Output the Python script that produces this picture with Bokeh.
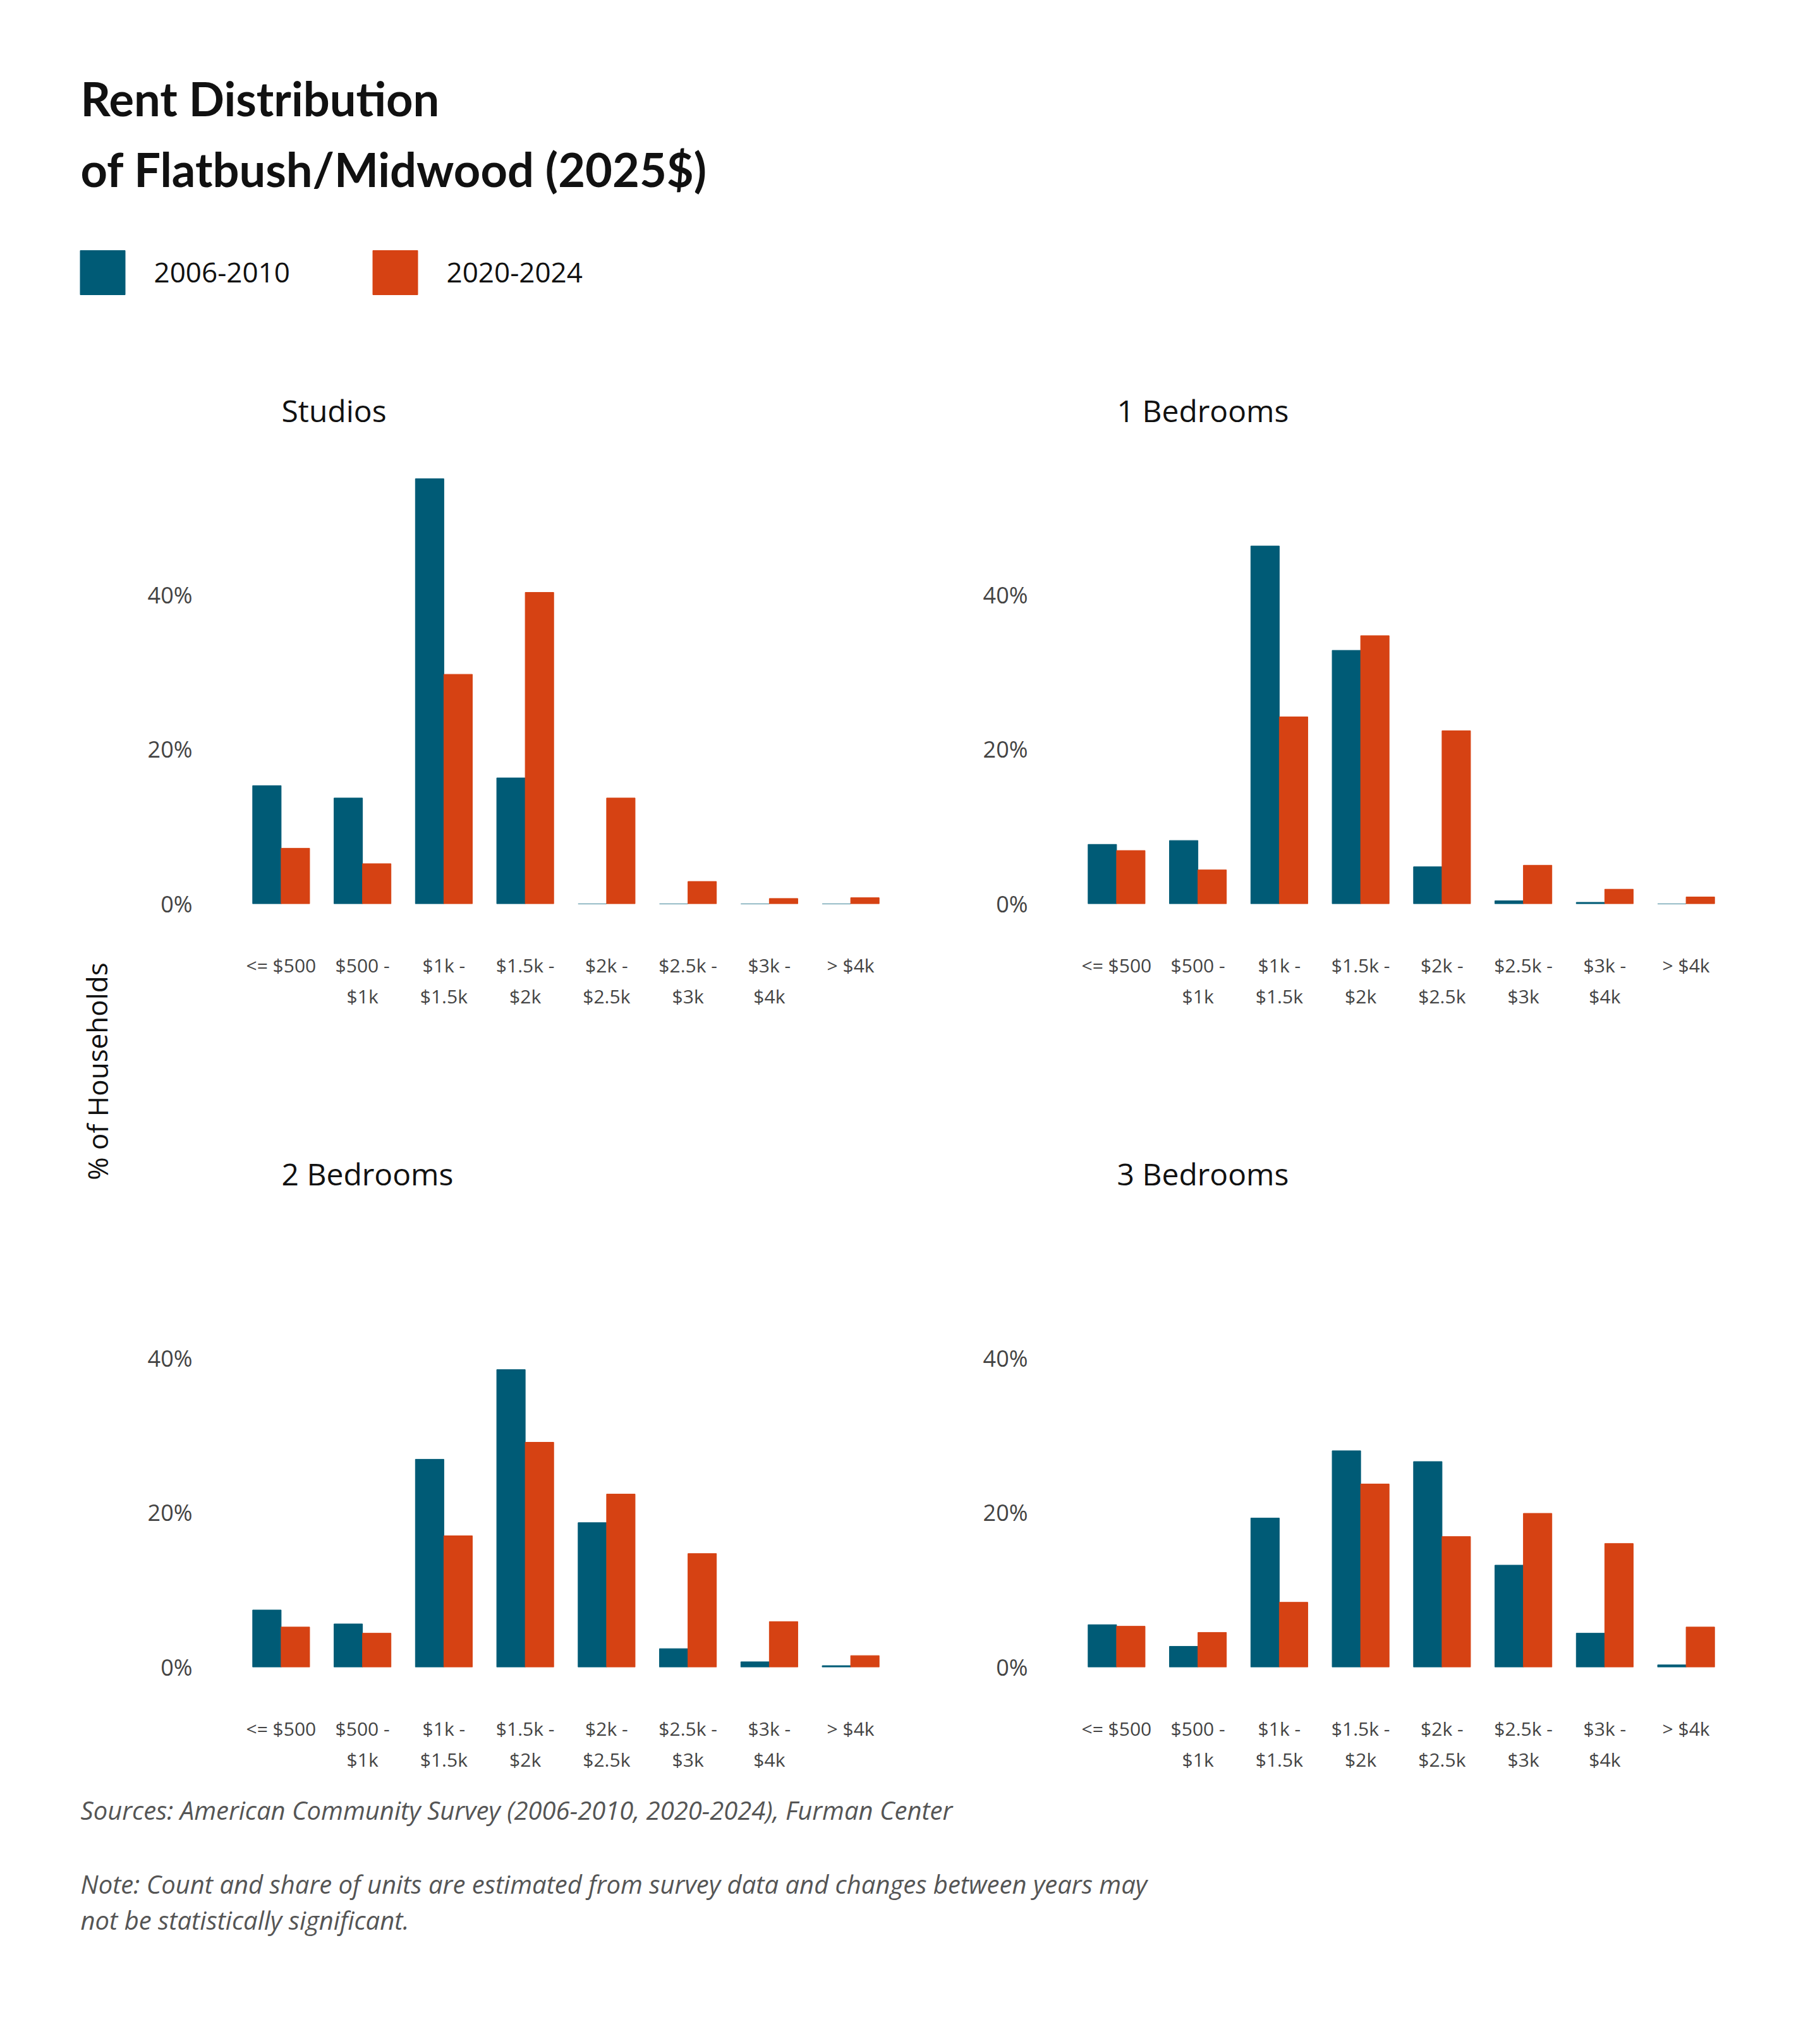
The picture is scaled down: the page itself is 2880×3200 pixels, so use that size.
from bokeh.plotting import figure
from bokeh.layouts import column, row
from bokeh.models import FactorRange, Range1d, NumeralTickFormatter, FixedTicker, Title
from bokeh.core.properties import value
from bokeh.transform import dodge
from bokeh.embed import file_html
from bokeh.resources import INLINE

categories = ["<= $500", "$500 -\n$1k", "$1k -\n$1.5k", "$1.5k -\n$2k", "$2k -\n$2.5k", "$2.5k -\n$3k", "$3k -\n$4k", "> $4k"]
panels = ["Studios", "1 Bedrooms", "2 Bedrooms", "3 Bedrooms"]
y2006 = {
    "Studios":    [15.3, 13.7, 55.0, 16.3, 0.0, 0.0, 0.0, 0.0],
    "1 Bedrooms": [7.7, 8.2, 46.3, 32.8, 4.8, 0.4, 0.2, 0.0],
    "2 Bedrooms": [7.4, 5.6, 26.9, 38.5, 18.7, 2.4, 0.7, 0.2],
    "3 Bedrooms": [5.5, 2.7, 19.3, 28.0, 26.6, 13.2, 4.4, 0.3],
}
y2020 = {
    "Studios":    [7.2, 5.2, 29.7, 40.3, 13.7, 2.9, 0.7, 0.8],
    "1 Bedrooms": [6.9, 4.4, 24.2, 34.7, 22.4, 5.0, 1.9, 0.9],
    "2 Bedrooms": [5.2, 4.4, 17.0, 29.1, 22.4, 14.7, 5.9, 1.5],
    "3 Bedrooms": [5.3, 4.5, 8.4, 23.7, 16.9, 19.9, 16.0, 5.2],
}
series_labels = ["2006-2010", "2020-2024"]
C1, C2 = "#005b76", "#d64213"
FONT = "Open Sans"
TITLE_FONT = "Lato"

def panel(name, left, right, bottom):
    p = figure(x_range=FactorRange(*categories, range_padding=0), y_range=Range1d(0, 0.6),
               width=left + 1030 + right, height=120 + 734 + bottom,
               min_border_left=left, min_border_right=right, min_border_top=120, min_border_bottom=bottom,
               output_backend="svg", toolbar_location=None)
    p.title = None
    t = Title(text=name, align="left", offset=65, text_font=FONT, text_font_size="48px",
              text_font_style="normal", text_color="#111111", standoff=30)
    p.add_layout(t, "above")
    data = dict(cat=categories, a=[v / 100 for v in y2006[name]], b=[v / 100 for v in y2020[name]])
    p.vbar(x=dodge("cat", -0.175, range=p.x_range), top="a", width=0.35, source=data, color=C1)
    p.vbar(x=dodge("cat", 0.175, range=p.x_range), top="b", width=0.35, source=data, color=C2)
    p.yaxis.ticker = FixedTicker(ticks=[0, 0.2, 0.4])
    p.yaxis.formatter = NumeralTickFormatter(format="0%")
    for ax in (p.xaxis[0], p.yaxis[0]):
        ax.axis_line_color = None
        ax.major_tick_line_color = None
        ax.minor_tick_line_color = None
        ax.major_label_text_font = FONT
        ax.major_label_text_color = "#444444"
    p.yaxis.major_label_text_font_size = "36px"
    p.yaxis.major_label_standoff = 70
    p.xaxis.major_label_text_font_size = "30px"
    p.xaxis.major_label_standoff = 70
    p.xgrid.grid_line_color = None
    p.ygrid.grid_line_color = None
    p.outline_line_color = None
    return p

f1 = panel(panels[0], 180, 20, 354)
f2 = panel(panels[1], 272, 40, 354)
f3 = panel(panels[2], 180, 20, 200)
f4 = panel(panels[3], 272, 40, 200)

def blank(w, h):
    p = figure(width=w, height=h, x_range=Range1d(0, w), y_range=Range1d(h, 0),
               output_backend="svg", toolbar_location=None, min_border=0)
    p.axis.visible = False
    p.grid.visible = False
    p.outline_line_color = None
    return p

header = blank(2864, 576)
header.text(x=[127, 127], y=[155, 267], text=["Rent Distribution", "of Flatbush/Midwood (2025$)"],
            text_font=value(TITLE_FONT), text_font_style="bold", text_font_size="74px",
            text_baseline="middle", text_color="#111111")
header.rect(x=[162, 625], y=[431, 431], width=71, height=70, color=[C1, C2])
header.text(x=[243, 706], y=[431, 431], text=series_labels, text_font=value(FONT),
            text_font_size="44px", text_baseline="middle", text_color="#111111")

lab = blank(200, 2262)
lab.text(x=[153], y=[1119], text=["% of Households"], angle=1.5708, text_font=value(FONT),
         text_font_size="44px", text_align="center", text_baseline="middle", text_color="#111111")

footer = blank(2864, 310)
footer.text(x=[127, 127, 127], y=[26, 143, 200],
            text=["Sources: American Community Survey (2006-2010, 2020-2024), Furman Center",
                  "Note: Count and share of units are estimated from survey data and changes between years may",
                  "not be statistically significant."],
            text_font=value(FONT), text_font_style="italic", text_font_size="40px",
            text_baseline="middle", text_color="#555555")

layout = column(header, row(lab, column(row(f1, f2), row(f3, f4))), footer)
open("out.html", "w").write(file_html(layout, INLINE))
